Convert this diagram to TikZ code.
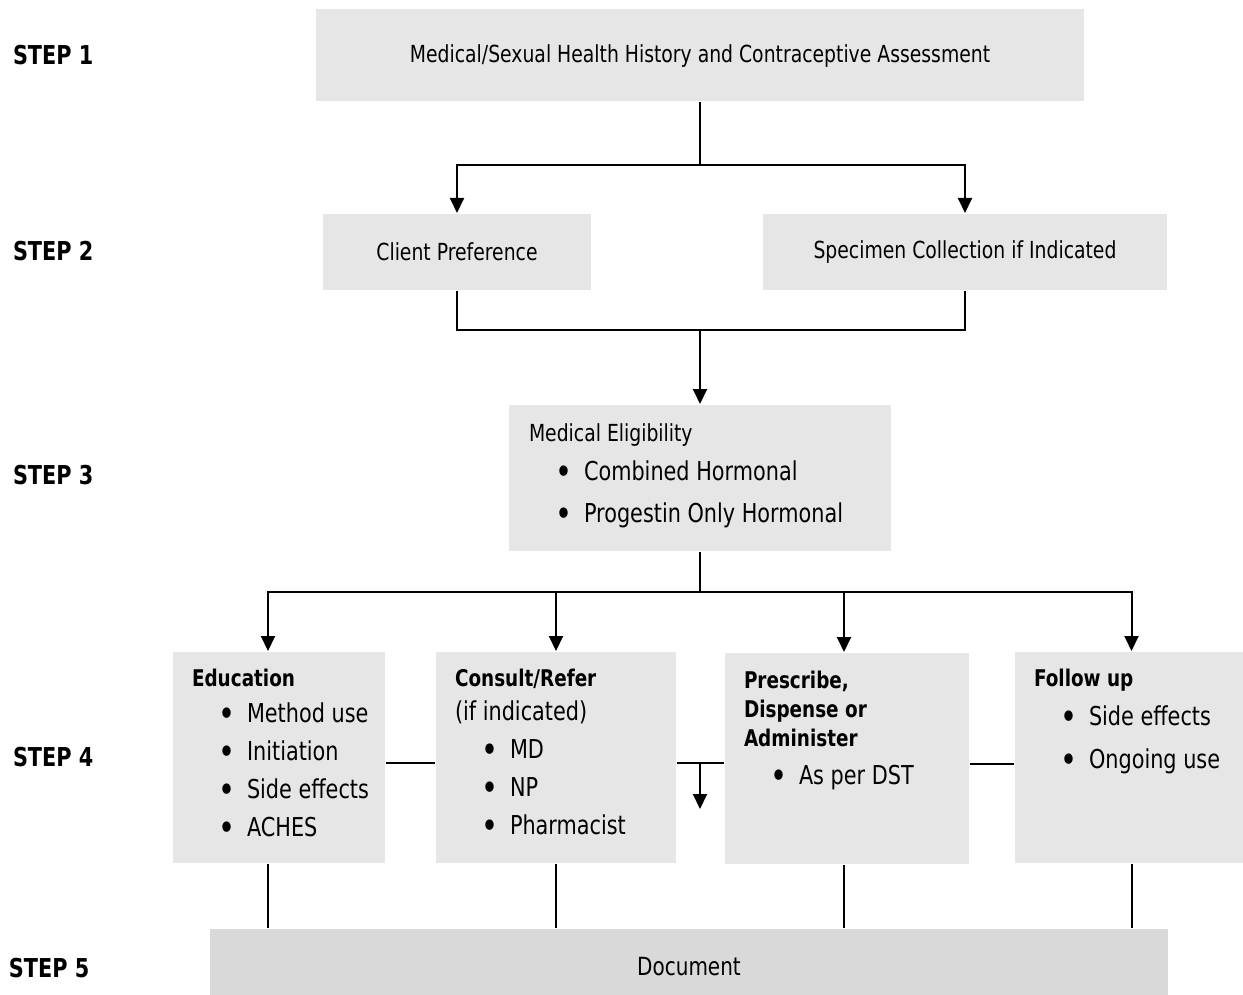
\documentclass[tikz,border=0pt]{standalone}
\usepackage{fontspec}
\setmainfont{DejaVu Sans}[FakeStretch=0.8]
\usepackage{tikz}
\usetikzlibrary{arrows.meta,
                positioning}

\definecolor{boxgray}{HTML}{E6E6E6}
\definecolor{docgray}{HTML}{D9D9D9}
\newcommand{\boxfont}{\fontsize{23.5}{27}\selectfont}
\newcommand{\stepfont}{\fontsize{26}{30}\selectfont\bfseries}
\newcommand{\headfont}{\fontsize{23}{29}\selectfont\bfseries}
\newcommand{\itm}[1]{\hspace*{26pt}\makebox[29pt][l]{\raisebox{-3.5pt}{\fontsize{36}{0}\selectfont\textbullet}}#1}

\begin{document}
\begin{tikzpicture}[x=1pt, y=-1pt, line width=2pt,
  >={Triangle[length=15pt,width=14pt]},
  box/.style={fill=boxgray, anchor=north west, inner sep=0pt, font=\boxfont},
  txt/.style={inner sep=0pt, align=left},
  steplbl/.style={anchor=west, inner sep=0pt, font=\stepfont}]
\useasboundingbox (0,0) rectangle (1243,995);

% step labels
\foreach \y/\s in {55/1,251/2,475/3,757/4}
  \node[steplbl] (step\s) at (12,\y) {STEP \s};
\node[steplbl] (step5) at (8,968) {STEP 5};

% boxes
\node[box, minimum width=768pt, minimum height=92pt, text height=20pt] (hist) at (315,8)
  {Medical/Sexual Health History and Contraceptive Assessment};
\node[box, minimum width=268pt, minimum height=76pt] (pref) at (322,213)
  {Client Preference};
\node[box, minimum width=404pt, minimum height=76pt] (spec) at (762,213)
  {Specimen Collection if Indicated};
\node[box, minimum width=382pt, minimum height=146pt] (elig) at (508,404) {};
\node[box, minimum width=212pt, minimum height=211pt] (edu) at (172,651) {};
\node[box, minimum width=240pt, minimum height=211pt] (cons) at (435,651) {};
\node[box, minimum width=244pt, minimum height=211pt] (presc) at (724,652) {};
\node[box, minimum width=229pt, minimum height=211pt] (follow) at (1014,651) {};
\node[box, fill=docgray, minimum width=958pt, minimum height=67pt,
  text height=26pt, text depth=0pt,
  font=\fontsize{25}{30}\selectfont] (doc) at (209,928) {Document};

% box texts
\node[txt, below right=19pt and 20pt of elig.north west,
  font=\fontsize{26}{42}\selectfont] (eligtxt)
  {{\boxfont Medical Eligibility}\\[-3pt]
   \itm{Combined Hormonal}\\
   \itm{Progestin Only Hormonal}};
\node[txt, below right=17.5pt and 19pt of edu.north west,
  font=\fontsize{26}{38}\selectfont] (edutxt)
  {{\headfont Education}\\[-2pt]
   \itm{Method use}\\
   \itm{Initiation}\\
   \itm{Side effects}\\
   \itm{ACHES}};
\node[txt, below right=17.5pt and 19pt of cons.north west,
  font=\fontsize{26}{38}\selectfont] (constxt)
  {{\headfont Consult/Refer}\\[-4pt]
   (if indicated)\\
   \itm{MD}\\
   \itm{NP}\\
   \itm{Pharmacist}};
\node[txt, below right=18.5pt and 19pt of presc.north west,
  font=\fontsize{26}{38}\selectfont] (presctxt)
  {{\headfont Prescribe,}\\[-9pt]
   {\headfont Dispense or}\\[-9pt]
   {\headfont Administer}\\
   \itm{As per DST}};
\node[txt, below right=17.5pt and 19pt of follow.north west,
  font=\fontsize{26}{43}\selectfont] (followtxt)
  {{\headfont Follow up}\\[-4pt]
   \itm{Side effects}\\
   \itm{Ongoing use}};

% step 1 -> step 2
\draw[->] (hist.south) -- ++(0,63) -| (pref.north);
\draw[->] (hist.south) -- ++(0,63) -| (spec.north);

% step 2 -> step 3
\coordinate (m2) at (elig.north |- 0,330);
\draw (pref.south) |- (m2) -| (spec.south);
\draw[->] (m2) -- (elig.north);

% step 3 -> step 4
\coordinate (m3) at (elig.south |- 0,592);
\draw (elig.south) -- (m3);
\foreach \n/\dx in {edu/-11,cons/0,presc/-3,follow/2}
  \draw[->] (m3) -| ([xshift=\dx pt]\n.north);

% step 4 side links
\draw ([yshift=-5pt]edu.east) -- ([yshift=-5pt]cons.west);
\draw ([yshift=-5pt]cons.east) -- ([yshift=-5pt]cons.east -| presc.west);
\draw ([yshift=-5pt]presc.east) -- ([yshift=-5pt]presc.east -| follow.west);
\coordinate (m4) at (700,762);
\draw[->] (m4) -- ++(0,47);

% step 4 -> step 5
\foreach \n/\dx in {edu/-11,cons/0,presc/-3,follow/2}
  \draw ([xshift=\dx pt]\n.south) -- ([xshift=\dx pt]\n.south |- doc.north);
\end{tikzpicture}
\end{document}
